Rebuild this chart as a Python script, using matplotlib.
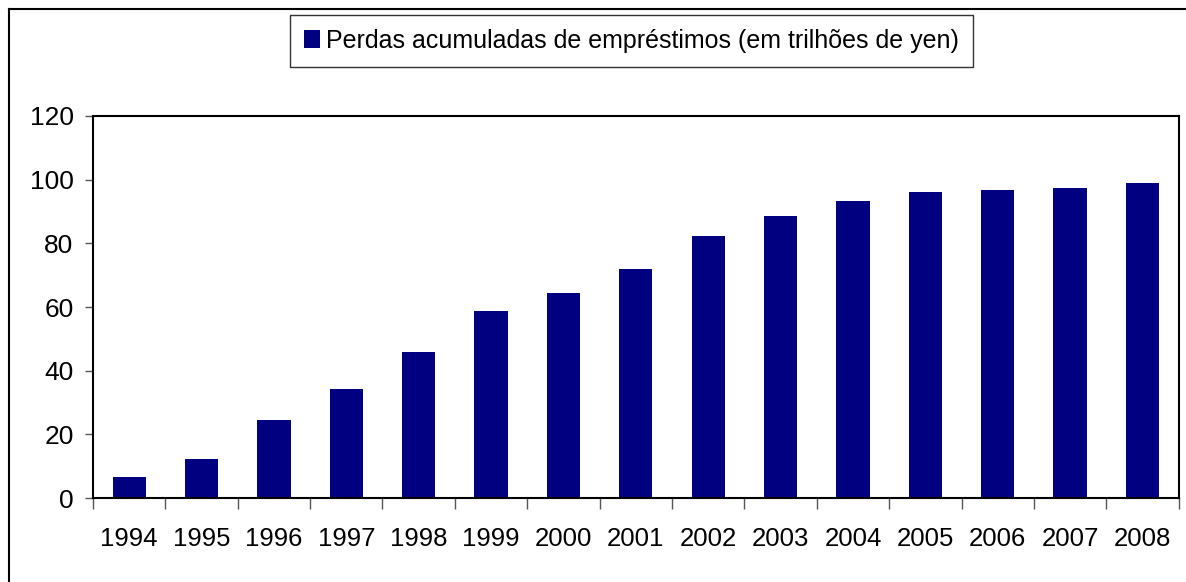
import matplotlib.pyplot as plt
from matplotlib.lines import Line2D

anos = ['1994', '1995', '1996', '1997', '1998', '1999', '2000', '2001',
        '2002', '2003', '2004', '2005', '2006', '2007', '2008']
perdas = [6.5, 12.2, 24.5, 34.1, 45.9, 58.8, 64.5, 72.0,
          82.3, 88.6, 93.4, 96.1, 96.8, 97.5, 99.0]
rotulo = 'Perdas acumuladas de empréstimos (em trilhões de yen)'

plt.rcParams['font.family'] = ['Liberation Sans', 'DejaVu Sans']

fig = plt.figure(figsize=(11.86, 5.82), dpi=100)
ax = fig.add_axes([0.0784, 0.1443, 0.9154, 0.6564])

x = range(len(anos))
ax.bar(x, perdas, width=0.46, color='#000080', label=rotulo)

ax.set_xlim(-0.5, len(anos) - 0.5)
ax.set_ylim(0, 120)
ax.set_yticks(range(0, 121, 20))
ax.set_xticks(list(x))
ax.set_xticklabels(anos)
ax.set_xticks([i - 0.5 for i in range(len(anos) + 1)], minor=True)

ax.tick_params(axis='x', which='major', length=0, pad=21, labelsize=18.5)
ax.tick_params(axis='x', which='minor', length=8, width=1, color='#555555')
ax.tick_params(axis='y', length=6, width=1, pad=8, labelsize=19,
               color='#555555')

for s in ax.spines.values():
    s.set_linewidth(1.5)
    s.set_color('black')

leg = fig.legend(loc='upper left', bbox_to_anchor=(290 / 1186, 1 - 15 / 582),
                 fontsize=18, frameon=True, fancybox=False,
                 handlelength=0.65, handleheight=0.7, handletextpad=0.25,
                 borderpad=0.55, borderaxespad=0)
leg.get_frame().set_edgecolor('black')
leg.get_frame().set_linewidth(1)

# moldura externa (só topo e esquerda visíveis)
fig.add_artist(Line2D([9 / 1186, 1], [1 - 9 / 582, 1 - 9 / 582],
                      transform=fig.transFigure, color='black', lw=1.5))
fig.add_artist(Line2D([9 / 1186, 9 / 1186], [0, 1 - 9 / 582],
                      transform=fig.transFigure, color='black', lw=1.5))

fig.savefig('out.png', dpi=100)
